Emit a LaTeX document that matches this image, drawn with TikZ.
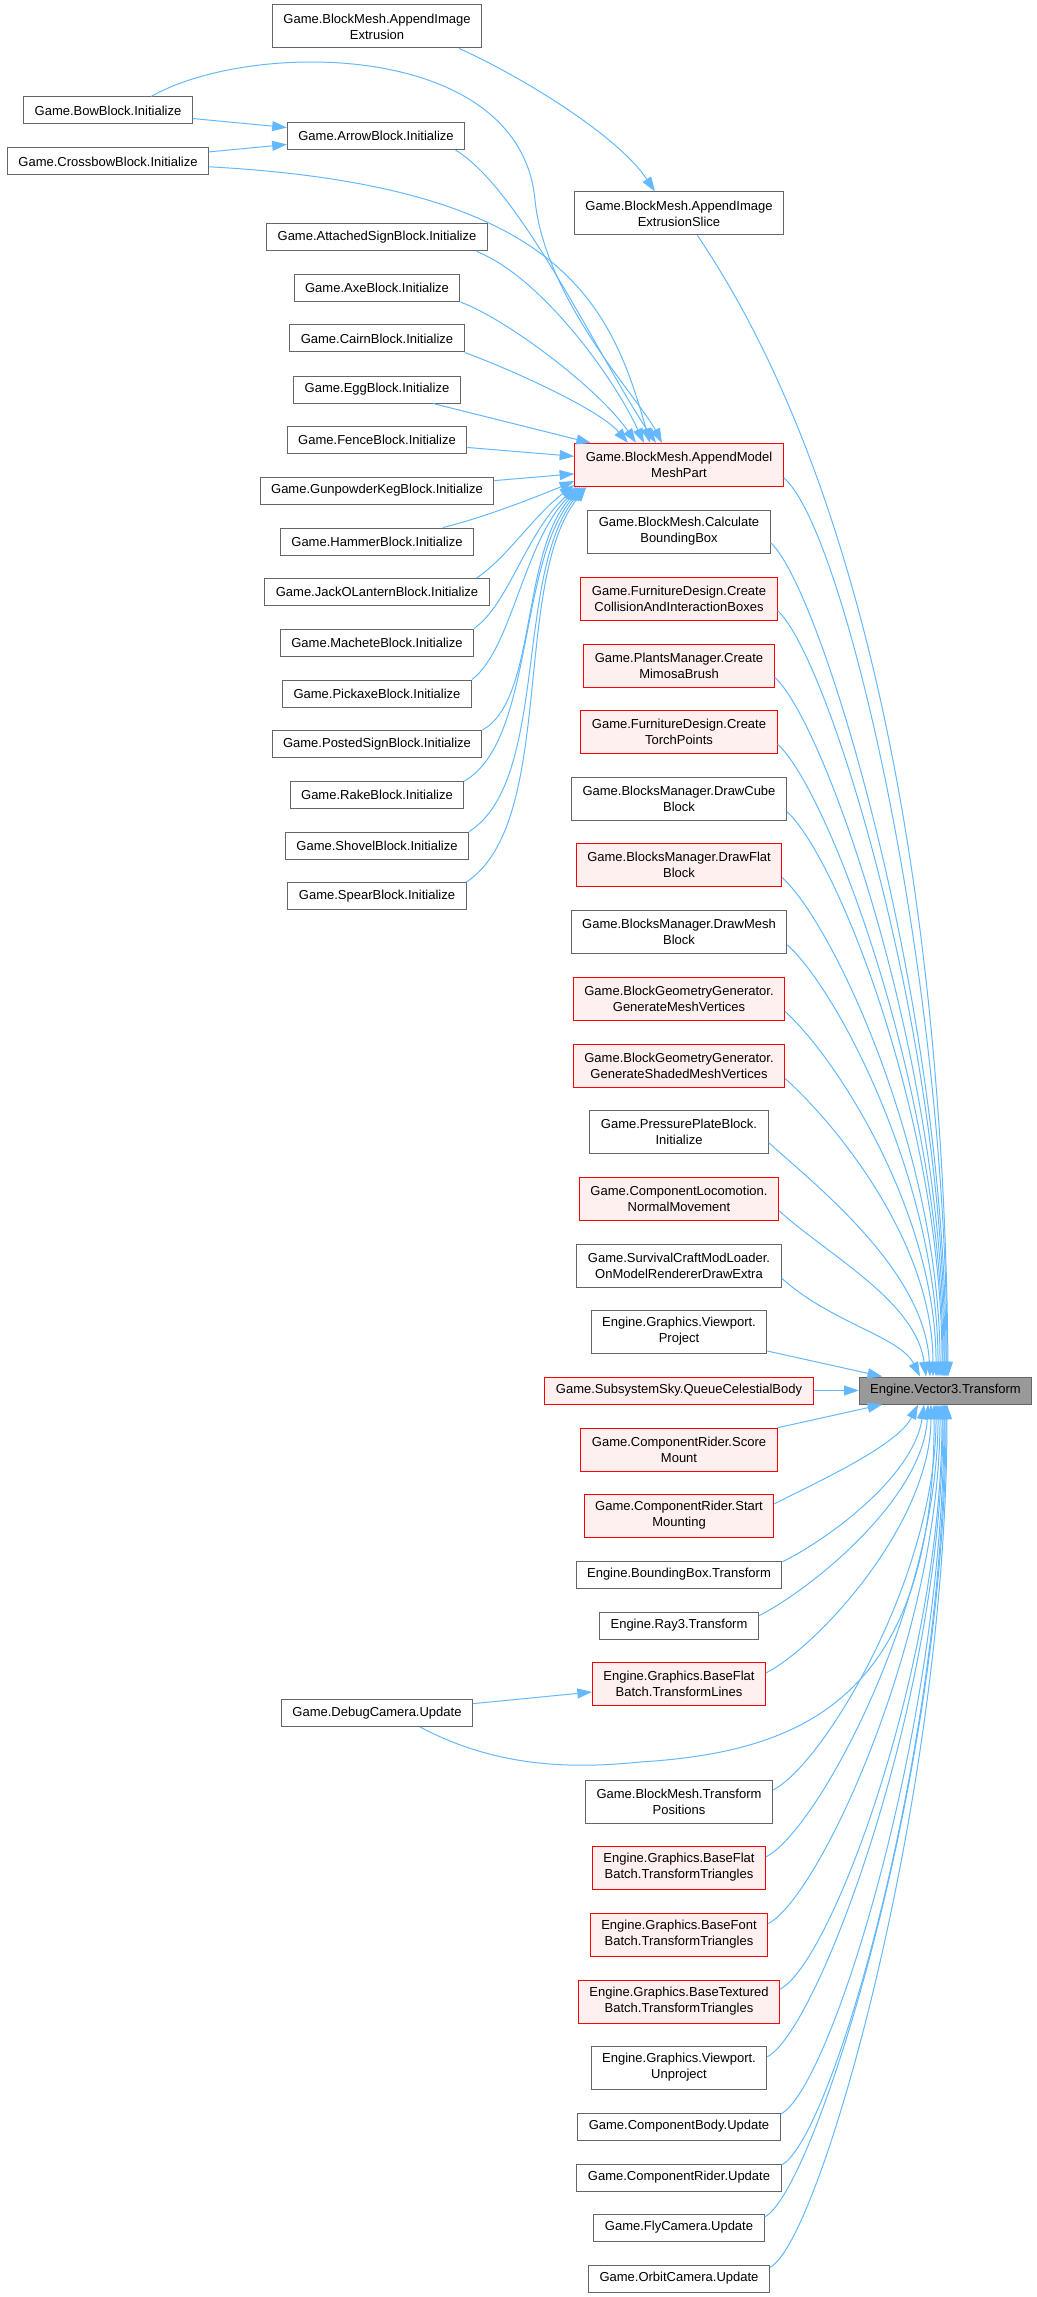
\documentclass[tikz,border=0pt]{standalone}
\usepackage{fontspec}
\setmainfont{Liberation Sans}
\usetikzlibrary{arrows.meta}
\definecolor{edgeblue}{HTML}{63B8FF}
\definecolor{nodegray}{HTML}{666666}
\definecolor{truncfill}{HTML}{FFF0F0}
\definecolor{rootgray}{HTML}{999999}

\begin{document}
\begin{tikzpicture}[x=0.75pt, y=-0.75pt,
	fn/.style={draw=nodegray, fill=white, line width=0.75pt, font=\fontsize{9.75}{12}\selectfont, align=center, inner xsep=8.25pt, inner ysep=1pt, minimum height=20.25pt},
	fn2/.style={fn, minimum height=32.25pt},
	trunc/.style={draw=red, fill=truncfill},
	root/.style={fill=rootgray},
	edge/.style={draw=edgeblue, line width=0.75pt, -{Triangle[length=11pt, width=7.5pt]}}]
			\useasboundingbox (0,0) rectangle (1037,2297);
			\def \lx{377};
			\def \mx{679};
			% left column
			\node[fn2] (ext) at (\lx, 26.5) {Game.BlockMesh.AppendImage\\Extrusion};
			\node[fn] (bow) at (108, 110.5) {Game.BowBlock.Initialize};
			\node[fn] (arrow) at (376, 136) {Game.ArrowBlock.Initialize};
			\node[fn] (xbow) at (108, 161.5) {Game.CrossbowBlock.Initialize};
			\node[fn] (sign) at (\lx, 237.5) {Game.AttachedSignBlock.Initialize};
			\node[fn] (axe) at (\lx, 288) {Game.AxeBlock.Initialize};
			\node[fn] (cairn) at (\lx, 338.5) {Game.CairnBlock.Initialize};
			\node[fn] (egg) at (\lx, 389.5) {Game.EggBlock.Initialize};
			\node[fn] (fence) at (\lx, 440) {Game.FenceBlock.Initialize};
			\node[fn] (keg) at (\lx, 490.5) {Game.GunpowderKegBlock.Initialize};
			\node[fn] (hammer) at (\lx, 541.5) {Game.HammerBlock.Initialize};
			\node[fn] (jack) at (\lx, 592) {Game.JackOLanternBlock.Initialize};
			\node[fn] (machete) at (\lx, 642.5) {Game.MacheteBlock.Initialize};
			\node[fn] (pickaxe) at (\lx, 693.5) {Game.PickaxeBlock.Initialize};
			\node[fn] (posted) at (\lx, 744) {Game.PostedSignBlock.Initialize};
			\node[fn] (rake) at (\lx, 795) {Game.RakeBlock.Initialize};
			\node[fn] (shovel) at (\lx, 845.5) {Game.ShovelBlock.Initialize};
			\node[fn] (spear) at (\lx, 896) {Game.SpearBlock.Initialize};
			\node[fn] (debug) at (\lx, 1713) {Game.DebugCamera.Update};
			% middle column
			\node[fn2] (slice) at (\mx, 213.5) {Game.BlockMesh.AppendImage\\ExtrusionSlice};
			\node[fn2, trunc] (model) at (\mx, 465) {Game.BlockMesh.AppendModel\\MeshPart};
			\node[fn2] (bbox) at (\mx, 531.5) {Game.BlockMesh.Calculate\\BoundingBox};
			\node[fn2, trunc] (collide) at (\mx, 598.5) {Game.FurnitureDesign.Create\\CollisionAndInteractionBoxes};
			\node[fn2, trunc] (mimosa) at (\mx, 665.5) {Game.PlantsManager.Create\\MimosaBrush};
			\node[fn2, trunc] (torch) at (\mx, 732) {Game.FurnitureDesign.Create\\TorchPoints};
			\node[fn2] (cube) at (\mx, 798.5) {Game.BlocksManager.DrawCube\\Block};
			\node[fn2, trunc] (flat) at (\mx, 865) {Game.BlocksManager.DrawFlat\\Block};
			\node[fn2] (mesh) at (\mx, 931.5) {Game.BlocksManager.DrawMesh\\Block};
			\node[fn2, trunc] (genmesh) at (\mx, 998.5) {Game.BlockGeometryGenerator.\\GenerateMeshVertices};
			\node[fn2, trunc] (genshaded) at (\mx, 1065.5) {Game.BlockGeometryGenerator.\\GenerateShadedMeshVertices};
			\node[fn2] (plate) at (\mx, 1131.5) {Game.PressurePlateBlock.\\Initialize};
			\node[fn2, trunc] (locomotion) at (\mx, 1198.5) {Game.ComponentLocomotion.\\NormalMovement};
			\node[fn2] (modloader) at (\mx, 1265.5) {Game.SurvivalCraftModLoader.\\OnModelRendererDrawExtra};
			\node[fn2] (project) at (\mx, 1331.5) {Engine.Graphics.Viewport.\\Project};
			\node[fn, trunc] (sky) at (\mx, 1390.5) {Game.SubsystemSky.QueueCelestialBody};
			\node[fn2, trunc] (score) at (\mx, 1449.5) {Game.ComponentRider.Score\\Mount};
			\node[fn2, trunc] (mounting) at (\mx, 1515.5) {Game.ComponentRider.Start\\Mounting};
			\node[fn] (bboxt) at (\mx, 1574.5) {Engine.BoundingBox.Transform};
			\node[fn] (ray) at (\mx, 1625.5) {Engine.Ray3.Transform};
			\node[fn2, trunc] (lines) at (\mx, 1683.5) {Engine.Graphics.BaseFlat\\Batch.TransformLines};
			\node[fn2] (positions) at (\mx, 1801.5) {Game.BlockMesh.Transform\\Positions};
			\node[fn2, trunc] (flattri) at (\mx, 1867.5) {Engine.Graphics.BaseFlat\\Batch.TransformTriangles};
			\node[fn2, trunc] (fonttri) at (\mx, 1934.5) {Engine.Graphics.BaseFont\\Batch.TransformTriangles};
			\node[fn2, trunc] (textri) at (\mx, 2001.5) {Engine.Graphics.BaseTextured\\Batch.TransformTriangles};
			\node[fn2] (unproject) at (\mx, 2067.5) {Engine.Graphics.Viewport.\\Unproject};
			\node[fn] (body) at (\mx, 2126.5) {Game.ComponentBody.Update};
			\node[fn] (rider) at (\mx, 2177.5) {Game.ComponentRider.Update};
			\node[fn] (fly) at (\mx, 2227.5) {Game.FlyCamera.Update};
			\node[fn] (orbit) at (\mx, 2278.5) {Game.OrbitCamera.Update};
			% the called function
			\node[fn, root] (v3) at (945.5, 1390.5) {Engine.Vector3.Transform};
			% left part
			\draw[edge] (ext.-15) .. controls +(50,22) and +(-40,-60) .. ([xshift=-18pt]slice.north);
			\draw[edge] (bow) -- (arrow);
			\draw[edge] (xbow) -- (arrow);
			\draw[edge] (bow.18) .. controls +(100,-57) and +(-15,-160) .. (535,200) .. controls +(10,100) and +(-22,-43) .. ([xshift=-12.75pt]model.north);
			\draw[edge] (xbow.-3) .. controls +(349,19) and +(-40,-143) .. ([xshift=-21.75pt]model.north);
			\draw[edge] (arrow.-10) .. controls +(66,40) and +(-56,-83) .. ([xshift=-17.25pt]model.north);
			\draw[edge] (sign.-8) .. controls +(61,24) and +(-34,-73) .. ([xshift=-26.25pt]model.north);
			\draw[edge] (axe.south east) .. controls +(48,18) and +(-36,-53) .. ([xshift=-32.25pt]model.north);
			\draw[edge] (cairn.south east) .. controls +(49,18) and +(-28,-33) .. ([xshift=-38.25pt]model.north);
			\draw[edge] (egg) -- (model);
			\draw[edge] (fence) -- (model);
			\draw[edge] (keg) -- (model);
			\draw[edge] (hammer.12) .. controls +(35,-8) and +(-35,15) .. ([yshift=4.5pt]model.south west);
			\draw[edge] (jack.8) .. controls +(30,-20) and +(-40,30) .. ([yshift=1.5pt]model.south west);
			\draw[edge] (machete.north east) .. controls +(35,-25) and +(-50,45) .. ([xshift=1.5pt]model.south west);
			\draw[edge] (pickaxe.north east) .. controls +(40,-30) and +(-55,55) .. ([xshift=3pt]model.south west);
			\draw[edge] (posted.north east) .. controls +(55,-30) and +(-60,65) .. ([xshift=4.5pt]model.south west);
			\draw[edge] (rake.north east) .. controls +(70,-40) and +(-65,75) .. ([xshift=6pt]model.south west);
			\draw[edge] (shovel.north east) .. controls +(80,-50) and +(-70,85) .. ([xshift=7.5pt]model.south west);
			\draw[edge] (spear.north east) .. controls +(90,-60) and +(-75,95) .. ([xshift=9pt]model.south west);
			% into the top of v3
			\draw[edge] (slice.-50) .. controls +(196,290) and +(-3,-377) .. ([xshift=1.9pt]v3.north);
			\draw[edge] (model.-7) .. controls +(60,50) and +(0,-405) .. ([xshift=1.1pt]v3.north);
			\draw[edge] (bbox.-7) .. controls +(50,45) and +(0,-375) .. ([xshift=0.4pt]v3.north);
			\draw[edge] (collide.-7) .. controls +(50,45) and +(0,-345) .. ([xshift=-0.4pt]v3.north);
			\draw[edge] (mimosa.-7) .. controls +(50,45) and +(0,-315) .. ([xshift=-1.1pt]v3.north);
			\draw[edge] (torch.-7) .. controls +(50,45) and +(0,-285) .. ([xshift=-1.9pt]v3.north);
			\draw[edge] (cube.-7) .. controls +(50,45) and +(0,-255) .. ([xshift=-2.6pt]v3.north);
			\draw[edge] (flat.-7) .. controls +(50,45) and +(0,-225) .. ([xshift=-4.1pt]v3.north);
			\draw[edge] (mesh.-7) .. controls +(50,45) and +(0,-195) .. ([xshift=-5.6pt]v3.north);
			\draw[edge] (genmesh.-7) .. controls +(50,45) and +(0,-165) .. ([xshift=-7.1pt]v3.north);
			\draw[edge] (genshaded.-7) .. controls +(50,45) and +(0,-135) .. ([xshift=-9.4pt]v3.north);
			\draw[edge] (plate.-7) .. controls +(50,45) and +(-5,-105) .. ([xshift=-11.6pt]v3.north);
			\draw[edge] (locomotion.-7) .. controls +(50,45) and +(-10,-75) .. ([xshift=-14.6pt]v3.north);
			\draw[edge] (modloader.-7) .. controls +(50,45) and +(-20,-40) .. ([xshift=-19.1pt]v3.north);
			\draw[edge] (project) -- (v3);
			\draw[edge] (sky) -- (v3);
			\draw[edge] (score) -- (v3);
			% into the bottom of v3
			\draw[edge] (mounting.7) .. controls +(50,-25) and +(-20,40) .. ([xshift=-20.6pt]v3.south);
			\draw[edge] (bboxt.7) .. controls +(50,-25) and +(-10,70) .. ([xshift=-16.1pt]v3.south);
			\draw[edge] (ray.7) .. controls +(50,-25) and +(-5,95) .. ([xshift=-13.1pt]v3.south);
			\draw[edge] (lines.7) .. controls +(50,-25) and +(0,120) .. ([xshift=-10.9pt]v3.south);
			\draw[edge] (debug) -- (lines);
			\draw[edge] (debug.-18) .. controls +(81,43) and +(-60,6) .. (640,1762) .. controls +(160,-10) and +(1,296) .. ([xshift=-8.6pt]v3.south);
			\draw[edge] (positions.7) .. controls +(50,-25) and +(0,173) .. ([xshift=-7.1pt]v3.south);
			\draw[edge] (flattri.7) .. controls +(50,-25) and +(0,203) .. ([xshift=-5.6pt]v3.south);
			\draw[edge] (fonttri.7) .. controls +(50,-25) and +(0,233) .. ([xshift=-4.1pt]v3.south);
			\draw[edge] (textri.7) .. controls +(50,-25) and +(0,263) .. ([xshift=-2.6pt]v3.south);
			\draw[edge] (unproject.7) .. controls +(50,-25) and +(0,293) .. ([xshift=-1.9pt]v3.south);
			\draw[edge] (body.7) .. controls +(50,-25) and +(0,320) .. ([xshift=-1.1pt]v3.south);
			\draw[edge] (rider.7) .. controls +(50,-25) and +(0,343) .. ([xshift=-0.4pt]v3.south);
			\draw[edge] (fly.7) .. controls +(50,-25) and +(0,366) .. ([xshift=0.4pt]v3.south);
			\draw[edge] (orbit.7) .. controls +(50,-25) and +(0,389) .. ([xshift=1.1pt]v3.south);
		\end{tikzpicture}
\end{document}
